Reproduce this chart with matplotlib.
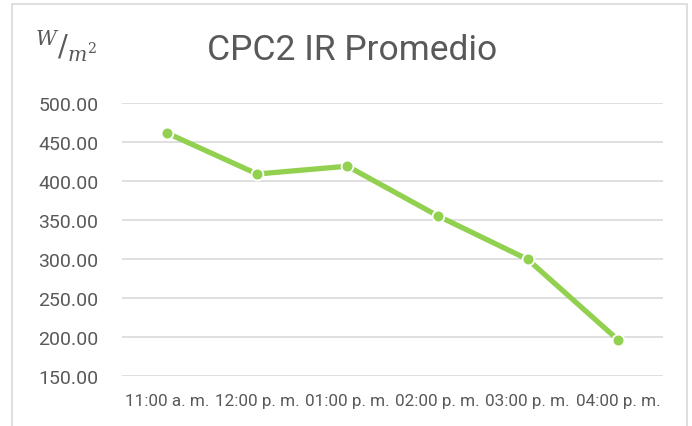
import matplotlib
matplotlib.use('Agg')
import matplotlib.pyplot as plt
from matplotlib.patches import Rectangle

# Data
horas = ['11:00 a. m.', '12:00 p. m.', '01:00 p. m.', '02:00 p. m.', '03:00 p. m.', '04:00 p. m.']
ir_promedio = [461.5, 409.0, 419.0, 355.5, 299.5, 196.5]
y_ticks = [150, 200, 250, 300, 350, 400, 450, 500]

plt.rcParams['font.family'] = ['Roboto', 'DejaVu Sans']
plt.rcParams['mathtext.fontset'] = 'dejavuserif'

fig = plt.figure(figsize=(6.92, 4.27), dpi=100)
ax = fig.add_axes([0.1763, 0.117, 0.7818, 0.6394])

# Outer chart border
fig.patches.append(Rectangle((12 / 692, -0.05), 675 / 692, 1 - 5 / 427 + 0.05,
                             transform=fig.transFigure, fill=False,
                             edgecolor='#d9d9d9', linewidth=1.2))

x = list(range(len(horas)))
ax.plot(x, ir_promedio, color='#92d050', linewidth=3.8, marker='o',
        markersize=8.5, markerfacecolor='#92d050', markeredgecolor='white',
        markeredgewidth=1.3, solid_capstyle='round', zorder=3)

ax.set_xlim(-0.5, len(horas) - 0.5)
ax.set_ylim(150, 500)
ax.set_yticks(y_ticks)
ax.set_yticklabels([f'{v:.2f}' for v in y_ticks])
ax.set_xticks(x)
ax.set_xticklabels(horas)
ax.tick_params(axis='y', length=0, labelsize=14, labelcolor='#595959', pad=17)
ax.tick_params(axis='x', length=0, labelsize=12.3, labelcolor='#595959', pad=12)
ax.grid(axis='y', color='#d9d9d9', linewidth=1.2)
ax.set_axisbelow(True)
for s in ax.spines.values():
    s.set_visible(False)

fig.text(352 / 692, 1 - 50 / 427, 'CPC2 IR Promedio', ha='center', va='center',
         fontsize=25.5, color='#595959')
fig.text(35 / 692, 1 - 46 / 427, r'$^{W}/_{m^2}$', ha='left', va='center',
         fontsize=21, color='#595959')

fig.savefig('out.png', dpi=100)
